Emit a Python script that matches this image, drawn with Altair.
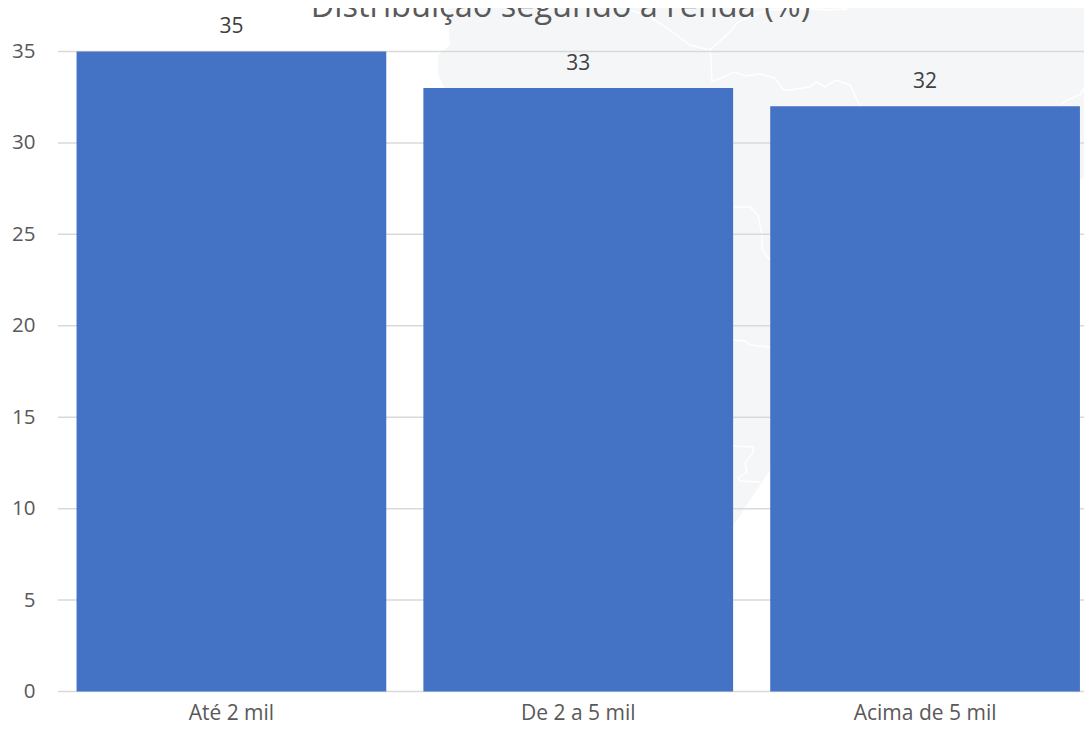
import altair as alt
import pandas as pd

categories = ["Até 2 mil", "De 2 a 5 mil", "Acima de 5 mil"]
values = [35, 33, 32]
grid_values = [0, 5, 10, 15, 20, 25, 30, 35]
title_text = ["Distribuição segundo a renda (%)"]
title_x = [560.5]
title_y = [17]

# Faint background map (watermark), in map units
map_y = [8, 20, 45, 55, 75, 85, 100, 140, 150, 178, 180, 470, 520, 525]
map_left = [448, 448, 450, 438, 438, 443, 450, 500, 510, 540, 545, 725, 732, 733]
map_right = [1084, 1084, 1084, 1084, 1084, 1084, 1084, 1084, 1084, 1084, 1080, 770, 737, 733]

border_ids = ["a"] * 12 + ["b"] * 3 + ["c"] * 15 + ["d"] * 5 + ["e"] * 6 + ["f"] * 4 + ["g"] * 8
border_x = [
    630, 650, 670, 690, 710, 730, 738, 767, 790, 813, 830, 847,
    710, 711, 712,
    712, 735, 745, 760, 775, 783, 790, 810, 816, 825, 836, 850, 857, 860, 862,
    1084, 1083, 1080, 1067, 1060,
    733, 750, 758, 762, 762, 770,
    733, 745, 750, 770,
    733, 753, 753, 745, 747, 738, 740, 760,
]
border_y = [
    10, 17, 30, 45, 50, 32, 22, 10, 9, 9, 10, 9,
    50, 60, 82,
    82, 72, 76, 74, 78, 90, 90, 87, 82, 87, 80, 85, 100, 106, 110,
    88, 90, 95, 100, 105,
    207, 207, 215, 235, 250, 260,
    340, 341, 345, 347,
    446, 447, 453, 463, 472, 478, 481, 482,
]

FONT = "Open Sans"
W, H = 1026, 640

bars_df = pd.DataFrame({"cat": categories, "val": values})
grid_df = pd.DataFrame({"g": grid_values})
map_df = pd.DataFrame({"y": map_y, "xa": map_left, "xb": map_right})
border_df = pd.DataFrame({"id": border_ids, "x": border_x, "y": border_y})
title_df = pd.DataFrame({"t": title_text, "x": title_x, "y": title_y})

map_x_scale = alt.Scale(domain=[58, 58 + W], range=[0, W])
map_y_scale = alt.Scale(domain=[51.5, 51.5 + H], range=[0, H])

map_area = alt.Chart(map_df).mark_area(color="#f5f6f8", orient="horizontal").encode(
    y=alt.Y("y:Q", scale=map_y_scale, axis=None),
    x=alt.X("xa:Q", scale=map_x_scale, axis=None),
    x2="xb:Q",
)
map_lines = alt.Chart(border_df).transform_window(
    row="row_number()", groupby=["id"]
).mark_line(color="#ffffff", strokeWidth=1.5).encode(
    x=alt.X("x:Q", scale=map_x_scale, axis=None),
    y=alt.Y("y:Q", scale=map_y_scale, axis=None),
    detail="id:N",
    order=alt.Order("row:Q"),
)
title_mark = alt.Chart(title_df).mark_text(
    font=FONT, fontSize=32.5, color="#595959", baseline="alphabetic", align="center"
).encode(
    x=alt.X("x:Q", scale=map_x_scale, axis=None),
    y=alt.Y("y:Q", scale=map_y_scale, axis=None),
    text="t:N",
)

x_scale = alt.Scale(domain=categories, range=[0, 1040.5], paddingInner=0.107, paddingOuter=0.0535)
y_scale = alt.Scale(domain=[0, 35], nice=False)

rules = alt.Chart(grid_df).mark_rule(color="#d9d9d9", strokeWidth=1.5).encode(
    y=alt.Y("g:Q", scale=y_scale, axis=alt.Axis(
        values=grid_values, grid=False, domain=False, ticks=False, title=None,
        labelFont=FONT, labelFontSize=20.5, labelColor="#595959", labelPadding=23,
    )),
)
bars = alt.Chart(bars_df).mark_bar(color="#4472C4").encode(
    x=alt.X("cat:N", sort=categories, scale=x_scale, axis=alt.Axis(
        grid=False, domain=False, ticks=False, title=None, labelAngle=0,
        labelFont=FONT, labelFontSize=21, labelColor="#595959", labelPadding=11,
    )),
    y=alt.Y("val:Q", scale=y_scale, axis=None),
)
labels = alt.Chart(bars_df).mark_text(
    font=FONT, fontSize=21, color="#404040", baseline="middle", dy=-24.5
).encode(
    x=alt.X("cat:N", sort=categories, scale=x_scale, axis=None),
    y=alt.Y("val:Q", scale=y_scale, axis=None),
    text="val:Q",
)

chart = (
    alt.layer(map_area, map_lines, title_mark, rules, bars, labels)
    .resolve_scale(x="independent", y="independent")
    .properties(
        width=W,
        height=H,
        autosize=alt.AutoSizeParams(type="none"),
        padding={"left": 50, "top": 43.5, "right": 0, "bottom": 33.5},
        background="#ffffff",
    )
    .configure_view(stroke=None)
)

chart.save("out.html", embed_options={"renderer": "svg", "actions": False})
